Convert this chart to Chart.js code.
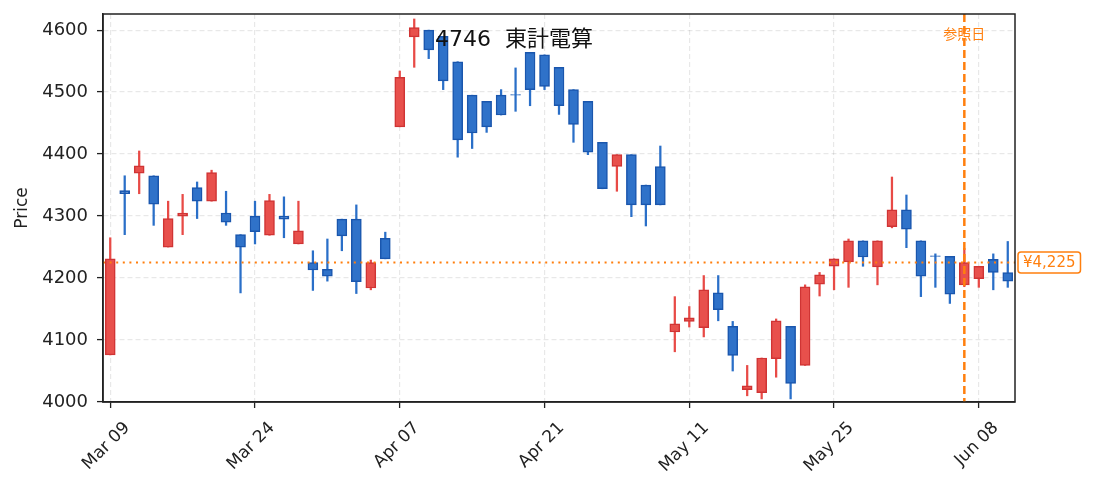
<!DOCTYPE html>
<html>
<head>
<meta charset="utf-8">
<script src="https://cdn.jsdelivr.net/npm/chart.js@4.4.1/dist/chart.umd.min.js"></script>
<style>
  html, body { margin: 0; padding: 0; background: #fff; }
  #caixa { width: 1093px; height: 491px; }
</style>
</head>
<body>
<div id="caixa"><canvas id="graficoVelas"></canvas></div>
<script>
// Dados (pregões de mar-jun)
const datas = [
  "Mar 09","Mar 10","Mar 11","Mar 12","Mar 13","Mar 16","Mar 17","Mar 18","Mar 19","Mar 23",
  "Mar 24","Mar 25","Mar 26","Mar 27","Mar 30","Mar 31","Apr 01","Apr 02","Apr 03","Apr 06",
  "Apr 07","Apr 08","Apr 09","Apr 10","Apr 13","Apr 14","Apr 15","Apr 16","Apr 17","Apr 20",
  "Apr 21","Apr 22","Apr 23","Apr 24","Apr 27","Apr 28","Apr 30","May 01","May 07","May 08",
  "May 11","May 12","May 13","May 14","May 15","May 18","May 19","May 20","May 21","May 22",
  "May 25","May 26","May 27","May 28","May 29","Jun 01","Jun 02","Jun 03","Jun 04","Jun 05",
  "Jun 08","Jun 09","Jun 10"
];
const aberturas = [
  4076,4341,4369,4365,4250,4300,4346,4324,4305,4270,
  4300,4269,4300,4255,4225,4214,4295,4295,4184,4264,
  4444,4589,4600,4590,4549,4495,4485,4495,4496,4564,
  4560,4540,4504,4485,4419,4380,4399,4350,4380,4113,
  4130,4120,4176,4122,4020,4015,4070,4122,4059,4190,
  4219,4226,4260,4218,4283,4310,4260,4236,4235,4189,
  4199,4230,4209
];
const maximas = [
  4265,4365,4405,4365,4324,4335,4355,4374,4340,4270,
  4324,4335,4331,4324,4244,4263,4295,4318,4229,4274,
  4534,4618,4600,4590,4549,4495,4485,4504,4539,4564,
  4560,4540,4504,4485,4419,4399,4399,4350,4413,4170,
  4154,4204,4204,4130,4059,4071,4134,4122,4189,4209,
  4231,4263,4260,4260,4363,4334,4260,4239,4235,4248,
  4219,4239,4259
];
const minimas = [
  4076,4270,4336,4285,4250,4270,4296,4324,4285,4176,
  4255,4269,4265,4255,4180,4195,4244,4175,4181,4231,
  4444,4540,4554,4504,4395,4409,4435,4463,4469,4478,
  4504,4464,4419,4399,4344,4340,4299,4284,4318,4081,
  4121,4105,4131,4050,4010,4005,4040,4005,4059,4171,
  4181,4185,4219,4189,4281,4249,4170,4185,4159,4186,
  4185,4181,4185
];
const fechamentos = [
  4231,4336,4381,4319,4296,4305,4324,4370,4290,4250,
  4275,4325,4295,4276,4213,4203,4268,4194,4225,4231,
  4524,4604,4568,4518,4423,4434,4444,4463,4495,4504,
  4509,4478,4448,4403,4344,4399,4318,4318,4318,4126,
  4136,4181,4149,4075,4026,4071,4131,4030,4186,4205,
  4231,4260,4234,4260,4310,4279,4203,4235,4174,4225,
  4219,4209,4195
];
const yTicks = [4000, 4100, 4200, 4300, 4400, 4500, 4600];
const precoRef = 4225;
const dataRef = "Jun 05";
const titulo = "4746  東計電算";

const fonte = "'DejaVu Sans', 'Noto Sans CJK JP', sans-serif";
const laranja = "#ff7f0e";

Chart.defaults.font.family = fonte;
Chart.defaults.color = "#222";

// cores por vela: vermelho sobe, azul desce
const sobe = aberturas.map((a, i) => fechamentos[i] >= a);
const corCorpo = sobe.map(s => s ? "#e8504c" : "#2f72c9");
const corBorda = sobe.map(s => s ? "#d03434" : "#1a56ad");
const corPavio = sobe.map(s => s ? "#e84a46" : "#2a6fc8");

const corpos = aberturas.map((a, i) => [a, fechamentos[i]]);
const pavios = minimas.map((m, i) => [m, maximas[i]]);

// linhas de referência, rótulos e moldura
const pluginReferencia = {
  id: "referencia",
  afterDatasetsDraw(chart) {
    const { ctx, chartArea, scales } = chart;
    const y = scales.y.getPixelForValue(precoRef);
    const x = scales.x.getPixelForValue(datas.indexOf(dataRef));

    ctx.save();
    ctx.strokeStyle = laranja;
    ctx.lineWidth = 2;
    ctx.setLineDash([2, 4.6]);
    ctx.beginPath();
    ctx.moveTo(chartArea.left, y);
    ctx.lineTo(chartArea.right, y);
    ctx.stroke();

    // texto do dia de referência (a linha tracejada passa por cima)
    ctx.fillStyle = laranja;
    ctx.font = "14px " + fonte;
    ctx.textAlign = "center";
    ctx.textBaseline = "middle";
    ctx.fillText("参照日", x, chartArea.top + 21);

    ctx.lineWidth = 2.5;
    ctx.setLineDash([8, 4]);
    ctx.beginPath();
    ctx.moveTo(x, chartArea.top);
    ctx.lineTo(x, chartArea.bottom);
    ctx.stroke();
    ctx.setLineDash([]);

    // moldura
    ctx.strokeStyle = "#222";
    ctx.lineWidth = 1.5;
    ctx.strokeRect(chartArea.left, chartArea.top, chartArea.right - chartArea.left, chartArea.bottom - chartArea.top);

    // caixa do preço
    const texto = "¥" + precoRef.toLocaleString("en-US");
    ctx.font = "15px " + fonte;
    const w = ctx.measureText(texto).width + 10;
    const bx = chartArea.right + 3, bh = 21;
    ctx.fillStyle = "#fff";
    ctx.strokeStyle = laranja;
    ctx.lineWidth = 1.5;
    ctx.beginPath();
    ctx.roundRect(bx, y - bh / 2, w, bh, 3);
    ctx.fill();
    ctx.stroke();
    ctx.fillStyle = laranja;
    ctx.fillText(texto, bx + w / 2, y + 1);

    ctx.fillStyle = "#111";
    ctx.font = "22px " + fonte;
    ctx.fillText(titulo, 514, 40);
    ctx.restore();
  }
};

const gradeComum = {
  color: "rgba(0,0,0,0.09)",
  lineWidth: 1.2,
  tickColor: "#222",
  tickBorderDash: [],
  tickLength: 6,
  tickWidth: 1.3
};

new Chart(document.getElementById("graficoVelas"), {
  type: "bar",
  data: {
    labels: datas,
    datasets: [
      {
        label: "corpo",
        data: corpos,
        backgroundColor: corCorpo,
        borderColor: corBorda,
        borderWidth: 1.5,
        borderSkipped: false,
        barThickness: 10,
        grouped: false,
        order: 0
      },
      {
        label: "pavio",
        data: pavios,
        backgroundColor: corPavio,
        borderWidth: 0,
        barThickness: 1.6,
        grouped: false,
        order: 1
      }
    ]
  },
  options: {
    responsive: true,
    maintainAspectRatio: false,
    animation: false,
    devicePixelRatio: 1,
    layout: { padding: { left: 8, right: 78, top: 14, bottom: 0 } },
    plugins: {
      legend: { display: false },
      tooltip: { enabled: false }
    },
    scales: {
      x: {
        type: "category",
        offset: true,
        afterFit(scale) { scale.height = 89; },
        grid: Object.assign({ offset: false }, gradeComum),
        border: { display: true, color: "#222", width: 1.5, dash: [5, 3] },
        ticks: {
          autoSkip: false,
          maxRotation: 45,
          minRotation: 45,
          labelOffset: 17,
          padding: 10,
          font: { size: 17 },
          color: "#222",
          callback: (v, i) => (i % 10 === 0 ? datas[i] : null)
        }
      },
      y: {
        min: 4000,
        max: 4626,
        afterFit(scale) {
          scale.width = 95;
          scale.paddingTop = 0;
          scale.paddingBottom = 0;
        },
        afterBuildTicks(scale) { scale.ticks = yTicks.map(v => ({ value: v })); },
        grid: gradeComum,
        border: { display: true, color: "#222", width: 1.5, dash: [5, 3] },
        title: { display: true, text: "Price", font: { size: 17 }, color: "#222" },
        ticks: {
          padding: 9,
          font: { size: 18 },
          color: "#222",
          callback: v => String(v)
        }
      }
    }
  },
  plugins: [pluginReferencia]
});
</script>
</body>
</html>
